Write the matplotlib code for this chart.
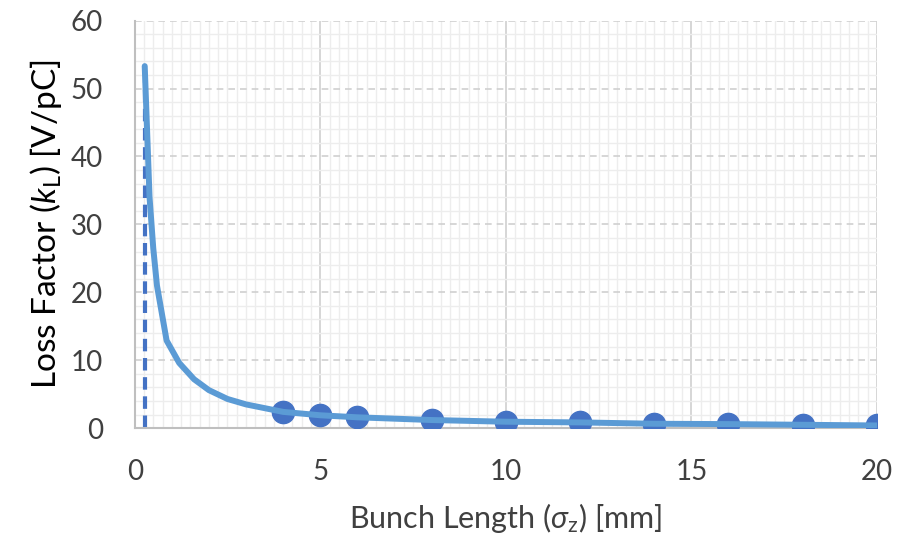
import matplotlib
matplotlib.use("Agg")
import matplotlib.pyplot as plt
from matplotlib.ticker import MultipleLocator

plt.rcParams['font.family'] = ['Lato', 'DejaVu Sans']
plt.rcParams['mathtext.fontset'] = 'custom'
plt.rcParams['mathtext.rm'] = 'Lato'
plt.rcParams['mathtext.it'] = 'Lato:italic'
plt.rcParams['mathtext.fallback'] = 'stixsans'

# Loss factor curve versus bunch length
sigma_curve = [0.27, 0.4, 0.5, 0.6, 0.86, 1.2, 1.6, 2.0, 2.5, 3.0, 4, 5, 6, 8, 10, 12, 14, 16, 18, 20]
k_curve = [53.3, 34.0, 26.5, 21.0, 12.9, 9.6, 7.2, 5.6, 4.3, 3.5, 2.4, 1.9, 1.6, 1.2, 0.95, 0.85, 0.65, 0.6, 0.5, 0.4]

# Computed points
sigma_pts = [4, 5, 6, 8, 10, 12, 14, 16, 18, 20]
k_pts = [2.35, 1.9, 1.65, 1.2, 0.95, 0.85, 0.65, 0.6, 0.45, 0.4]

# Minimum bunch length marker
sigma_min = 0.28
k_min_range = [0, 53.3]

x_ticks = [0, 5, 10, 15, 20]
y_ticks = [0, 10, 20, 30, 40, 50, 60]

fig = plt.figure(figsize=(9.04, 5.42), dpi=100)
ax = fig.add_axes([0.149, 0.210, 0.821, 0.752])

ax.set_xlim(0, 20)
ax.set_ylim(0, 60)
ax.set_xticks(x_ticks)
ax.set_yticks(y_ticks)
ax.xaxis.set_minor_locator(MultipleLocator(0.25))
ax.yaxis.set_minor_locator(MultipleLocator(2))

ax.grid(which='minor', color='#EDEDED', linewidth=1.0, linestyle='-')
ax.grid(which='major', axis='x', color='#D0D0D0', linewidth=1.2, linestyle='-')
ax.grid(which='major', axis='y', color='#D0D0D0', linewidth=1.2, linestyle=(0, (4, 3)))
ax.set_axisbelow(True)

ax.tick_params(which='both', length=0)
ax.tick_params(axis='both', labelsize=20, colors='#404040')
ax.tick_params(axis='y', pad=23)
ax.tick_params(axis='x', pad=22)

for side in ['top', 'right']:
    ax.spines[side].set_visible(False)
for side in ['left', 'bottom']:
    ax.spines[side].set_color('#BFBFBF')
    ax.spines[side].set_linewidth(1.5)

ax.plot([sigma_min, sigma_min], k_min_range, color='#4472C4', linewidth=3.0,
        linestyle=(0, (3, 1.6)), zorder=2)
ax.plot(sigma_pts, k_pts, linestyle='none', marker='o', markersize=16,
        color='#4472C4', zorder=3)
ax.plot(sigma_curve, k_curve, color='#5B9BD5', linewidth=4.3,
        solid_joinstyle='round', solid_capstyle='round', zorder=4)

ax.set_xlabel(r'Bunch Length ($\sigma_{\mathrm{z}}$) [mm]', fontsize=22,
              color='#404040', labelpad=12)
ax.set_ylabel(r'Loss Factor ($k_{\mathrm{L}}$) [V/pC]', fontsize=24,
              color='#000000', labelpad=5)

fig.savefig('out.png', dpi=100)
